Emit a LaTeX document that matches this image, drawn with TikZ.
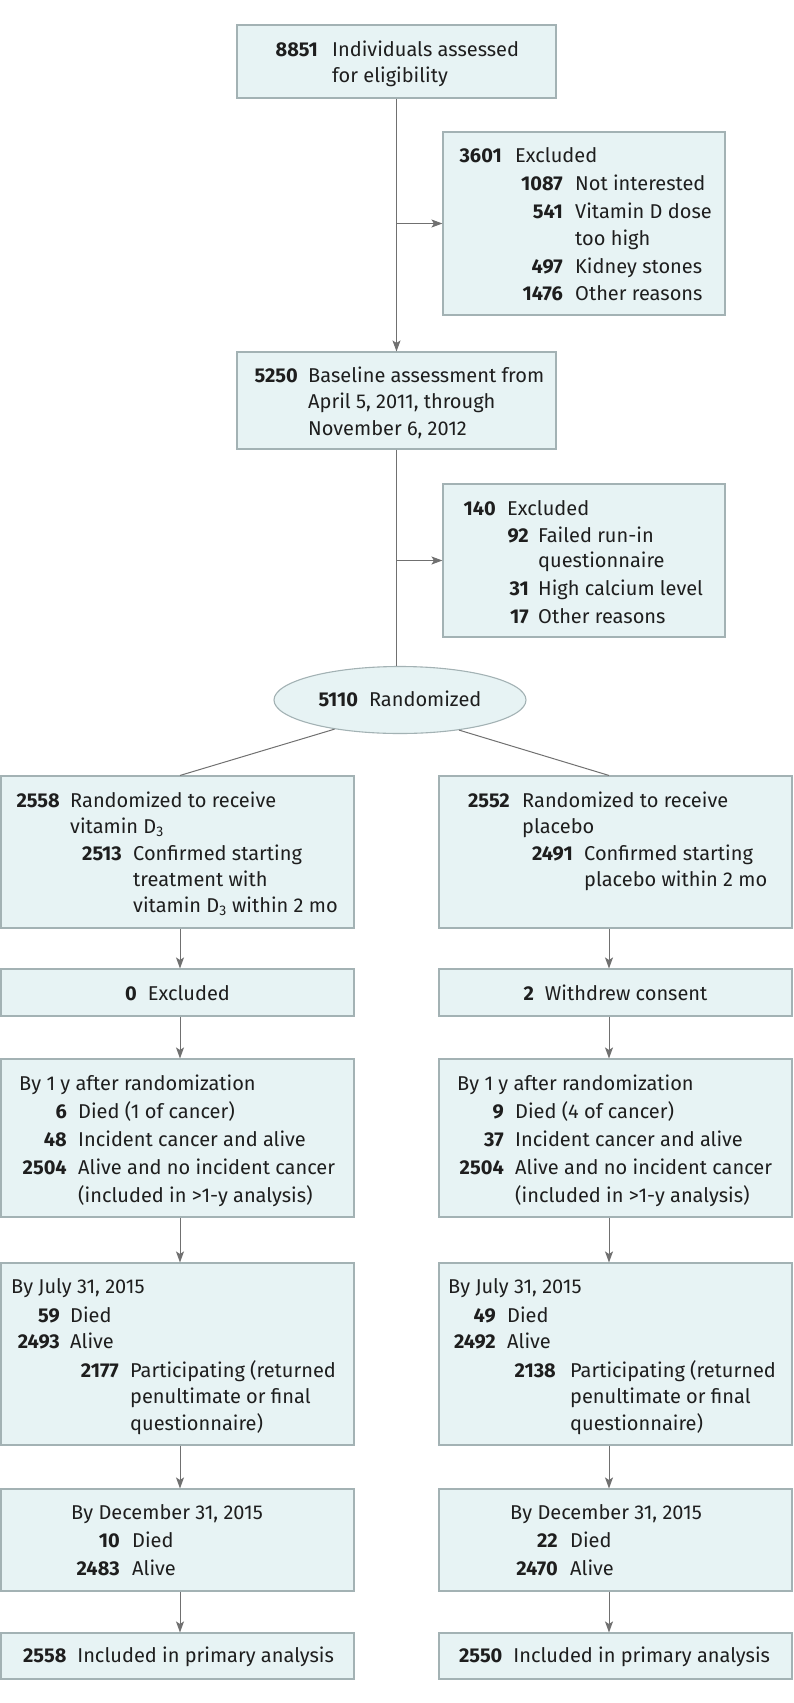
\documentclass[tikz,border=0pt]{standalone}
\usepackage{fontspec}
\setmainfont{Fira Sans}
\usetikzlibrary{arrows.meta,fit,shapes.geometric}
\definecolor{boxfill}{RGB}{231,243,244}
\definecolor{boxline}{RGB}{163,178,180}
\definecolor{conn}{RGB}{112,112,112}
\definecolor{ink}{RGB}{30,30,30}
\newcounter{tn}
\newcommand\tx[3]{\stepcounter{tn}\node[lbl,anchor=base west] (tx\arabic{tn}) at (#1,#2) {#3};}
\newcommand\nm[3]{\stepcounter{tn}\node[num,anchor=base east] (tx\arabic{tn}) at (#1,#2) {#3};}
\newcommand\bx[5]{\node[box,fit={(#2,#3) (#4,#5)}] (#1) {};}
\begin{document}
\begin{tikzpicture}[x=1pt,y=-1pt,
  box/.style={draw=boxline,fill=boxfill,line width=1.1pt,inner sep=0pt,rectangle},
  ell/.style={draw=boxline,fill=boxfill,line width=1.1pt,inner sep=0pt,ellipse},
  lbl/.style={inner sep=0pt,text=ink,font=\fontsize{20}{24}\selectfont},
  num/.style={inner sep=0pt,text=ink,font=\fontsize{20}{24}\selectfont\bfseries},
  ln/.style={draw=conn,line width=1pt},
  arr/.style={ln,-{Stealth[length=11pt,width=8pt,inset=2.5pt]}}]
\useasboundingbox (0,0) rectangle (794,1703);
% boxes
\bx{B1}{237}{25}{556}{98}
\bx{E1}{443}{132}{725}{315}
\bx{B2}{237}{352}{556}{449}
\bx{E2}{443}{484}{725}{637}
\node[ell,minimum width=252pt,minimum height=67pt] (R) at (400,700) {};
\bx{L1}{1}{776}{354}{928}
\bx{R1}{439}{776}{792}{928}
\bx{L2}{1}{969}{354}{1016}
\bx{R2}{439}{969}{792}{1016}
\bx{L3}{1}{1059}{354}{1217}
\bx{R3}{439}{1059}{792}{1217}
\bx{L4}{1}{1263}{354}{1445}
\bx{R4}{439}{1263}{792}{1445}
\bx{L5}{1}{1489}{354}{1591}
\bx{R5}{439}{1489}{792}{1591}
\bx{L6}{1}{1633}{354}{1679}
\bx{R6}{439}{1633}{792}{1679}
% connectors
\draw[arr] (B1.south) -- (B2.north);
\draw[arr] (B1.south |- E1.west) -- (E1.west);
\draw[ln] (B2.south) -- (B2.south |- R.north);
\draw[arr] (B2.south |- E2.west) -- (E2.west);
\draw[ln] (R.204) -- ([xshift=2.5pt]L1.north);
\draw[ln] (R.333) -- ([xshift=-6.5pt]R1.north);
\foreach \a/\b in {L1/L2,L2/L3,L3/L4,L4/L5,L5/L6}
  \draw[arr] ([xshift=2.5pt]\a.south) -- ([xshift=2.5pt]\b.north);
\foreach \a/\b in {R1/R2,R2/R3,R3/R4,R4/R5,R5/R6}
  \draw[arr] ([xshift=-6.5pt]\a.south) -- ([xshift=-6.5pt]\b.north);
% B1
\nm{318}{56}{8851}\tx{332}{56}{Individuals assessed}
\tx{332}{82}{for eligibility}
% E1
\nm{502}{162}{3601}\tx{515}{162}{Excluded}
\nm{563}{190}{1087}\tx{575}{190}{Not interested}
\nm{563}{218}{541}\tx{575}{218}{Vitamin D dose}
\tx{575}{245}{too high}
\nm{563}{273}{497}\tx{575}{273}{Kidney stones}
\nm{563}{300}{1476}\tx{575}{300}{Other reasons}
% B2
\nm{298}{382}{5250}\tx{308}{382}{Baseline assessment from}
\tx{308}{408}{April 5, 2011, through}
\tx{308}{435}{November 6, 2012}
% E2
\nm{496}{515}{140}\tx{507}{515}{Excluded}
\nm{529}{542}{92}\tx{538}{542}{Failed run-in}
\tx{538}{567}{questionnaire}
\nm{529}{595}{31}\tx{538}{595}{High calcium level}
\nm{529}{623}{17}\tx{538}{623}{Other reasons}
% ellipse text
\stepcounter{tn}\node[lbl,anchor=base] (tx\arabic{tn}) at (400,706) {\textbf{5110}\hspace{11pt}Randomized};
% L1
\nm{60}{807}{2558}\tx{70}{807}{Randomized to receive}
\tx{70}{833}{vitamin D\textsubscript{3}}
\nm{122}{860}{2513}\tx{133}{860}{Confirmed starting}
\tx{133}{886}{treatment with}
\tx{133}{912}{vitamin D\textsubscript{3} within 2 mo}
% R1
\nm{510}{807}{2552}\tx{522}{807}{Randomized to receive}
\tx{522}{833}{placebo}
\nm{573}{860}{2491}\tx{584}{860}{Confirmed starting}
\tx{584}{886}{placebo within 2 mo}
% L2 / R2
\stepcounter{tn}\node[lbl,anchor=base] (tx\arabic{tn}) at (177.5,1000) {\textbf{0}\hspace{11pt}Excluded};
\stepcounter{tn}\node[lbl,anchor=base] (tx\arabic{tn}) at (615.5,1000) {\textbf{2}\hspace{11pt}Withdrew consent};
% L3
\tx{19}{1090}{By 1 y after randomization}
\nm{67}{1118}{6}\tx{78}{1118}{Died (1 of cancer)}
\nm{67}{1146}{48}\tx{78}{1146}{Incident cancer and alive}
\nm{67}{1174}{2504}\tx{78}{1174}{Alive and no incident cancer}
\tx{78}{1202}{(included in >1-y analysis)}
% R3
\tx{457}{1090}{By 1 y after randomization}
\nm{504}{1118}{9}\tx{515}{1118}{Died (4 of cancer)}
\nm{504}{1146}{37}\tx{515}{1146}{Incident cancer and alive}
\nm{504}{1174}{2504}\tx{515}{1174}{Alive and no incident cancer}
\tx{515}{1202}{(included in >1-y analysis)}
% L4
\tx{11}{1293}{By July 31, 2015}
\nm{60}{1322}{59}\tx{70}{1322}{Died}
\nm{60}{1348}{2493}\tx{70}{1348}{Alive}
\nm{119}{1377}{2177}\tx{130}{1377}{Participating (returned}
\tx{130}{1403}{penultimate or final}
\tx{130}{1430}{questionnaire)}
% R4
\tx{448}{1293}{By July 31, 2015}
\nm{496}{1322}{49}\tx{507}{1322}{Died}
\nm{496}{1348}{2492}\tx{507}{1348}{Alive}
\nm{556}{1377}{2138}\tx{570}{1377}{Participating (returned}
\tx{570}{1403}{penultimate or final}
\tx{570}{1430}{questionnaire)}
% L5
\tx{71}{1519}{By December 31, 2015}
\nm{120}{1547}{10}\tx{132}{1547}{Died}
\nm{120}{1575}{2483}\tx{132}{1575}{Alive}
% R5
\tx{510}{1519}{By December 31, 2015}
\nm{558}{1547}{22}\tx{570}{1547}{Died}
\nm{558}{1575}{2470}\tx{570}{1575}{Alive}
% L6 / R6
\stepcounter{tn}\node[lbl,anchor=base] (tx\arabic{tn}) at (178.5,1662) {\textbf{2558}\hspace{11pt}Included in primary analysis};
\stepcounter{tn}\node[lbl,anchor=base] (tx\arabic{tn}) at (614.5,1662) {\textbf{2550}\hspace{11pt}Included in primary analysis};
\end{tikzpicture}
\end{document}
